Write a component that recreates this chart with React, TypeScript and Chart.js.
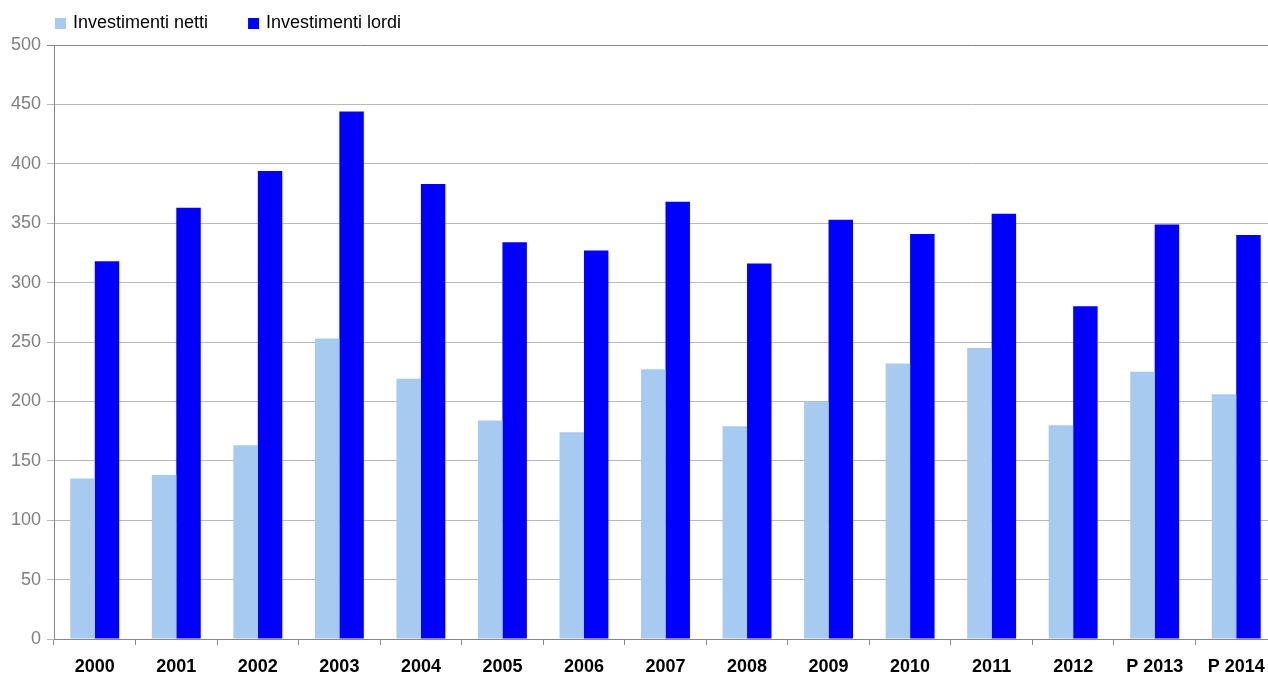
import React, { useEffect, useRef } from 'react';
import { Chart, registerables } from 'chart.js';

Chart.register(...registerables);

const categories = ['2000', '2001', '2002', '2003', '2004', '2005', '2006', '2007', '2008', '2009', '2010', '2011', '2012', 'P 2013', 'P 2014'];
const investimentiNetti = [135, 138, 163, 253, 219, 184, 174, 227, 179, 200, 232, 245, 180, 225, 206];
const investimentiLordi = [318, 363, 394, 444, 383, 334, 327, 368, 316, 353, 341, 358, 280, 349, 340];
const seriesLabels = ['Investimenti netti', 'Investimenti lordi'];
const seriesColors = ['#A6CAF0', '#0000FF'];
const yMin = 0;
const yMax = 500;
const yStep = 50;

const FONT = '"Liberation Sans", Arial, Helvetica, sans-serif';

const legendPlugin = {
  id: 'customLegend',
  afterDraw(chart: any) {
    const ctx = chart.ctx;
    ctx.save();
    ctx.font = `18px ${FONT}`;
    ctx.textBaseline = 'middle';
    ctx.textAlign = 'left';
    let x = chart.chartArea.left + 1;
    chart.data.datasets.forEach((ds: any) => {
      ctx.fillStyle = ds.backgroundColor;
      ctx.fillRect(x, 18, 11, 11);
      ctx.fillStyle = '#000000';
      ctx.fillText(ds.label, x + 18, 23);
      x += 18 + ctx.measureText(ds.label).width + 40;
    });
    ctx.restore();
  },
};

export default function App() {
  const canvasRef = useRef<HTMLCanvasElement | null>(null);

  useEffect(() => {
    if (!canvasRef.current) return;
    Chart.defaults.font.family = FONT;
    const chart = new Chart(canvasRef.current, {
      type: 'bar',
      data: {
        labels: categories,
        datasets: [
          {
            label: seriesLabels[0],
            data: investimentiNetti,
            backgroundColor: seriesColors[0],
            borderWidth: 0,
            categoryPercentage: 0.6,
            barPercentage: 1,
          },
          {
            label: seriesLabels[1],
            data: investimentiLordi,
            backgroundColor: seriesColors[1],
            borderWidth: 0,
            categoryPercentage: 0.6,
            barPercentage: 1,
          },
        ],
      },
      options: {
        responsive: false,
        animation: false,
        devicePixelRatio: 1,
        layout: { padding: { top: 45, left: 0, right: 0, bottom: 0 } },
        plugins: {
          legend: { display: false },
          tooltip: { enabled: false },
        },
        scales: {
          x: {
            offset: true,
            grid: {
              offset: true,
              drawOnChartArea: false,
              drawTicks: true,
              tickLength: 6,
              color: '#888888',
            },
            border: { display: true, color: '#888888', width: 1 },
            ticks: {
              color: '#000000',
              font: { size: 18, weight: 'bold', family: FONT },
              padding: 11,
              maxRotation: 0,
              autoSkip: false,
            },
            afterFit(scale: any) {
              scale.height = 38;
            },
          },
          y: {
            min: yMin,
            max: yMax,
            ticks: {
              stepSize: yStep,
              color: '#808080',
              font: { size: 18, family: FONT },
              padding: 6,
            },
            grid: {
              drawTicks: true,
              tickLength: 7,
              color: (ctx: any) => (ctx.tick && ctx.tick.value === yMax ? '#888888' : '#b8b8b8'),
              lineWidth: 1,
            },
            border: { display: true, color: '#888888', width: 1 },
            afterFit(scale: any) {
              scale.width = 54;
            },
          },
        },
      },
      plugins: [legendPlugin],
    } as any);
    return () => chart.destroy();
  }, []);

  return (
    <div style={{ position: 'fixed', top: 0, left: 0, width: 1268, height: 677, overflow: 'hidden', background: '#ffffff' }}>
      <canvas ref={canvasRef} width={1277} height={677} style={{ display: 'block' }} />
    </div>
  );
}
